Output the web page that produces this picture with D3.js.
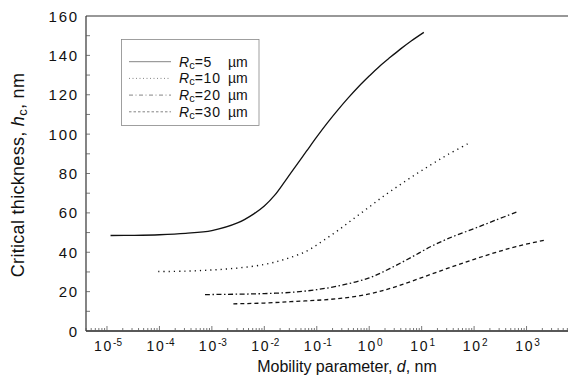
<!DOCTYPE html>
<html>
<head>
<meta charset="utf-8">
<script src="https://cdn.jsdelivr.net/npm/d3@7"></script>
<style>
  body { margin: 0; background: #fff; }
  svg { display: block; font-family: "Liberation Sans", Arial, sans-serif; }
</style>
</head>
<body>
<svg width="568" height="379"></svg>
<script>
// data (d in nm, hc in nm)
const d5  = [1.17e-5, 3.16e-5, 1e-4, 3.16e-4, 1e-3, 3.16e-3, 6.31e-3, 1e-2, 1.58e-2, 2.51e-2, 3.98e-2, 6.31e-2, 0.1, 0.158, 0.251, 0.398, 0.631, 1, 1.58, 2.51, 3.98, 6.31, 11];
const h5  = [48.5, 48.6, 48.9, 49.6, 51, 55, 59.5, 63.5, 69, 76.3, 83.8, 91.2, 98.6, 105.6, 112.2, 118.4, 124.2, 129.5, 134.5, 139, 143.3, 147.3, 151.7];
const d10 = [9.5e-5, 3.16e-4, 1e-3, 3.16e-3, 1e-2, 2.51e-2, 6.31e-2, 0.126, 0.251, 0.501, 1, 2.0, 3.98, 7.94, 15.8, 31.6, 85];
const h10 = [30.2, 30.4, 31, 32, 33.8, 36.5, 40.5, 45.5, 51, 57, 63, 69, 74.5, 79.8, 84.8, 89.6, 95.8];
const d20 = [7.4e-4, 3.16e-3, 1e-2, 3.16e-2, 0.1, 0.316, 1, 2.51, 6.31, 15.8, 39.8, 100, 251, 676];
const h20 = [18.5, 18.7, 19, 19.6, 21, 23.4, 27, 31.8, 37.4, 43.2, 48, 52, 56.2, 60.6];
const d30 = [2.57e-3, 1e-2, 3.16e-2, 0.1, 0.316, 1, 2.51, 6.31, 15.8, 39.8, 100, 251, 631, 2290];
const h30 = [13.8, 14.2, 14.9, 15.6, 16.7, 18.8, 21.6, 25.2, 29, 32.8, 36.4, 39.8, 42.9, 46.2];

const seriesLabels = ['5', '10', '20', '30'];
const xTickExps = [-5, -4, -3, -2, -1, 0, 1, 2, 3];
const yTicks = [0, 20, 40, 60, 80, 100, 120, 140, 160];

const svg = d3.select('svg');
const mLeft = 86, mTop = 16, mBottom = 331;

const x = d3.scaleLog().domain([Math.pow(10, -5.4), 1e4]).range([mLeft, 579]);
const y = d3.scaleLinear().domain([0, 160]).range([mBottom, mTop]);

// frame
svg.append('line').attr('x1', mLeft).attr('x2', 568).attr('y1', mTop).attr('y2', mTop)
  .attr('stroke', '#333').attr('stroke-width', 1.2);
svg.append('line').attr('x1', mLeft).attr('x2', mLeft).attr('y1', mTop).attr('y2', mBottom)
  .attr('stroke', '#333').attr('stroke-width', 1.2);
svg.append('line').attr('x1', mLeft).attr('x2', 568).attr('y1', mBottom).attr('y2', mBottom)
  .attr('stroke', '#222').attr('stroke-width', 1.4);

// y ticks (inward, every 10)
const yg = svg.append('g');
yg.selectAll('line').data(d3.range(10, 160, 10)).enter().append('line')
  .attr('x1', mLeft).attr('x2', mLeft + 4)
  .attr('y1', d => y(d)).attr('y2', d => y(d))
  .attr('stroke', '#555').attr('stroke-width', 0.8);
yg.selectAll('text').data(yTicks).enter().append('text')
  .attr('x', 79).attr('y', d => y(d) + 5.5)
  .attr('text-anchor', 'end').attr('font-size', 15).attr('letter-spacing', 1.8)
  .attr('fill', '#111').text(d => d);

// x ticks: log minors + decades (inward)
const minor = x.ticks(100).filter(v => x(v) >= mLeft && x(v) < 568);
svg.append('g').selectAll('line').data(minor).enter().append('line')
  .attr('x1', d => x(d)).attr('x2', d => x(d))
  .attr('y1', mBottom)
  .attr('y2', d => Math.abs(Math.log10(d) - Math.round(Math.log10(d))) < 1e-6 ? mBottom - 5 : mBottom - 3)
  .attr('stroke', '#555').attr('stroke-width', 0.8);

const xl = svg.append('g').selectAll('text').data(xTickExps).enter().append('text')
  .attr('x', d => x(Math.pow(10, d)) + 1).attr('y', 350.5)
  .attr('text-anchor', 'middle').attr('font-size', 14).attr('letter-spacing', 1.8).attr('fill', '#111');
xl.append('tspan').text('10');
xl.append('tspan').attr('font-size', 10).attr('dy', -5).attr('letter-spacing', 0).text(d => d < 0 ? '-' + (-d) : d);

// axis titles
const xt = svg.append('text').attr('x', 347).attr('y', 372).attr('text-anchor', 'middle')
  .attr('font-size', 16).attr('fill', '#111');
xt.append('tspan').text('Mobility parameter, ');
xt.append('tspan').attr('font-style', 'italic').text('d');
xt.append('tspan').text(', nm');

const yt = svg.append('text').attr('transform', 'translate(24,175) rotate(-90)')
  .attr('text-anchor', 'middle').attr('font-size', 18).attr('letter-spacing', 0.3).attr('fill', '#111');
yt.append('tspan').text('Critical thickness, ');
yt.append('tspan').attr('font-style', 'italic').text('h');
yt.append('tspan').attr('font-size', 13).attr('dy', 3).text('c');
yt.append('tspan').attr('dy', -3).text(', nm');

// curves
const styles = [
  {dash: null, w: 1.3},
  {dash: '1.2,4', w: 1.4},
  {dash: '5,2.5,1.5,2.5', w: 1.3},
  {dash: '4,3', w: 1.3}
];
const series = [[d5, h5], [d10, h10], [d20, h20], [d30, h30]];
const line = d3.line().x(p => x(p[0])).y(p => y(p[1])).curve(d3.curveCatmullRom.alpha(0.5));

svg.append('g').selectAll('path').data(series).enter().append('path')
  .attr('d', s => line(s[0].map((v, i) => [v, s[1][i]])))
  .attr('fill', 'none').attr('stroke', '#111')
  .attr('stroke-width', (s, i) => styles[i].w)
  .attr('stroke-dasharray', (s, i) => styles[i].dash);

// legend
const lg = svg.append('g');
lg.append('rect').attr('x', 121.5).attr('y', 39.5).attr('width', 137.5).attr('height', 86)
  .attr('fill', '#fff').attr('stroke', '#888').attr('stroke-width', 0.8);
const legendDash = [null, '1,2.5', '4,2.5,1,2.5', '2.5,2'];
seriesLabels.forEach((lab, i) => {
  const yy = 61.7 + i * 16.7;
  lg.append('line').attr('x1', 129).attr('x2', 171).attr('y1', yy).attr('y2', yy)
    .attr('stroke', '#666').attr('stroke-width', 0.8)
    .attr('stroke-dasharray', legendDash[i]);
  const t = lg.append('text').attr('x', 179).attr('y', yy + 5).attr('font-size', 14).attr('fill', '#111');
  t.append('tspan').attr('font-style', 'italic').text('R');
  t.append('tspan').attr('font-size', 11).attr('dy', 2).text('c');
  t.append('tspan').attr('dy', -2).attr('letter-spacing', 0.8).text('=' + lab);
  lg.append('text').attr('x', 228).attr('y', yy + 5).attr('font-size', 14).attr('fill', '#111').text('µm');
});
</script>
</body>
</html>
